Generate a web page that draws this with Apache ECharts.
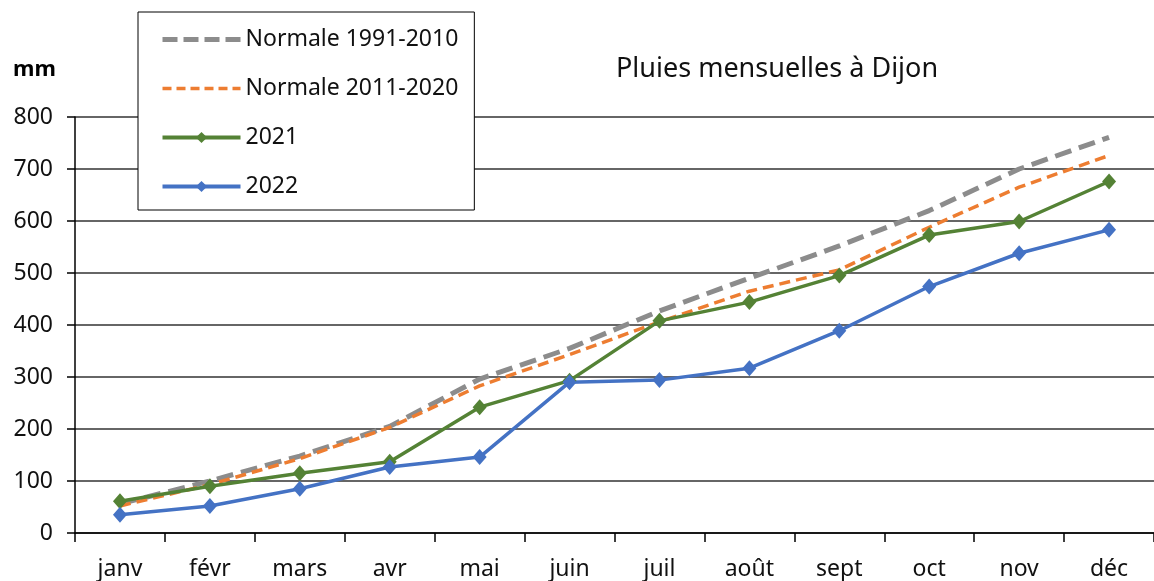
<!DOCTYPE html>
<html>
<head>
    <meta charset="utf-8">
    <title>Pluies mensuelles à Dijon</title>
    <script src="https://cdn.jsdelivr.net/npm/echarts@6/dist/echarts.min.js"></script>
    <style>
        html, body { margin: 0; padding: 0; background: #fff; }
        #chart { width: 1154px; height: 581px; }
    </style>
</head>
<body>
<div id="chart"></div>
<script>
    // données (cumuls mensuels, mm)
    var mois = ['janv', 'févr', 'mars', 'avr', 'mai', 'juin', 'juil', 'août', 'sept', 'oct', 'nov', 'déc'];
    var normale1991 = [56, 100, 148, 205, 296, 355, 427, 490, 552, 620, 700, 761];
    var normale2011 = [52, 93, 143, 203, 283, 343, 406, 465, 506, 588, 665, 726];
    var pluie2021 = [61, 90, 115, 137, 242, 293, 408, 444, 495, 573, 599, 676];
    var pluie2022 = [35, 52, 85, 127, 146, 290, 294, 317, 389, 474, 538, 583];
    var yTicks = { min: 0, max: 800, interval: 100 };

    var police = 'Noto Sans';
    var gris = '#8c8c8c', orange = '#ed7d31', vert = '#548235', bleu = '#4472c4';
    var chart = echarts.init(document.getElementById('chart'));

    var option = {
        animation: false,
        textStyle: { fontFamily: police, color: '#000' },
        title: {
            text: 'Pluies mensuelles à Dijon',
            left: 611,
            top: 51,
            textStyle: { fontSize: 27, fontWeight: 'normal', color: '#111', fontFamily: police }
        },
        legend: {
            orient: 'vertical',
            left: 138,
            top: 12,
            padding: [16, 16, 12, 22],
            itemWidth: 78,
            itemHeight: 14,
            itemGap: 26,
            backgroundColor: '#fff',
            borderColor: '#000',
            borderWidth: 1,
            textStyle: { fontSize: 23, color: '#111', fontFamily: police },
            data: [
                { name: 'Normale 1991-2010', itemStyle: { color: 'transparent', borderWidth: 0 },
                  lineStyle: { color: gris, width: 5, type: [15, 6] } },
                { name: 'Normale 2011-2020', itemStyle: { color: 'transparent', borderWidth: 0 },
                  lineStyle: { color: orange, width: 3.5, type: [9, 5] } },
                { name: '2021', lineStyle: { color: vert, width: 4 } },
                { name: '2022', lineStyle: { color: bleu, width: 4 } }
            ]
        },
        grid: { left: 75, right: 0, top: 117, bottom: 47 },
        xAxis: {
            type: 'category',
            data: mois,
            boundaryGap: true,
            axisLine: { lineStyle: { color: '#000', width: 1.5 } },
            axisTick: { show: true, length: 9, lineStyle: { color: '#000', width: 1.5 } },
            axisLabel: { fontSize: 23, color: '#111', margin: 25 }
        },
        yAxis: {
            type: 'value',
            min: yTicks.min,
            max: yTicks.max,
            interval: yTicks.interval,
            name: 'mm',
            nameLocation: 'end',
            nameGap: 36,
            nameTextStyle: { fontSize: 22, fontWeight: 'bold', color: '#000', align: 'right', padding: [0, 19, 0, 0] },
            axisLine: { show: true, lineStyle: { color: '#000', width: 1.5 } },
            axisTick: { show: true, length: 8, lineStyle: { color: '#000', width: 1.5 } },
            axisLabel: { fontSize: 23, color: '#111', margin: 22 },
            splitLine: { lineStyle: { color: '#333', width: 1.5 } }
        },
        series: [
            {
                name: 'Normale 1991-2010',
                type: 'line',
                data: normale1991,
                symbol: 'none',
                lineStyle: { color: gris, width: 5, type: [17, 8] },
                itemStyle: { color: gris }
            },
            {
                name: 'Normale 2011-2020',
                type: 'line',
                data: normale2011,
                symbol: 'none',
                lineStyle: { color: orange, width: 3.5, type: [11, 6] },
                itemStyle: { color: orange }
            },
            {
                name: '2021',
                type: 'line',
                data: pluie2021,
                symbol: 'diamond',
                symbolSize: [14, 16],
                lineStyle: { color: vert, width: 3.5 },
                itemStyle: { color: vert }
            },
            {
                name: '2022',
                type: 'line',
                data: pluie2022,
                symbol: 'diamond',
                symbolSize: [14, 16],
                lineStyle: { color: bleu, width: 3.5 },
                itemStyle: { color: bleu }
            }
        ]
    };
    chart.setOption(option);

    window.onresize = function () {
        chart.resize();
    };
</script>
</body>
</html>
